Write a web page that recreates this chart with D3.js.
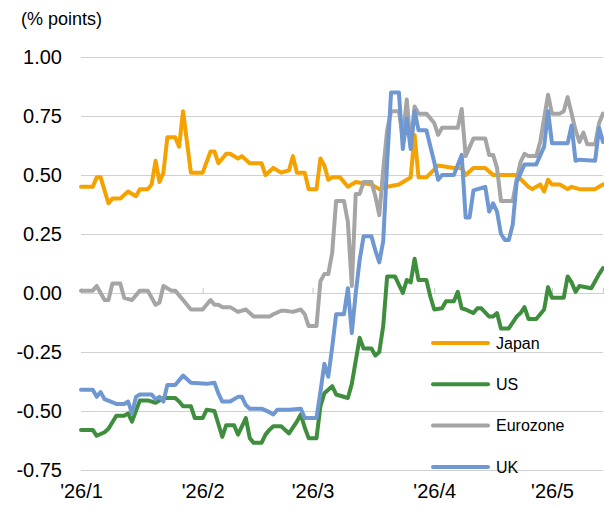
<!DOCTYPE html>
<html>

<head>
    <meta charset="utf-8" />
    <title>Spread chart</title>
    <script src="https://d3js.org/d3.v7.min.js"></script>
    <style>
        body { margin: 0; background: #fff; }
        text { font-family: Arial, "Liberation Sans", sans-serif; fill: #000; }
    </style>
</head>

<body>
    <svg width="604" height="506"></svg>
    <script>
        // series: [days since 2026-01-01, value in % points]
        const japan = [[0,0.45],[3,0.45],[4,0.49],[5,0.49],[7,0.38],[8,0.40],[10,0.40],[12,0.43],[14,0.41],[15,0.44],[17,0.44],[18,0.46],[19,0.56],[20,0.47],[21,0.51],[22,0.66],[24,0.66],[25,0.62],[26,0.77],[28,0.51],[31,0.51],[33,0.60],[34,0.60],[35,0.55],[37,0.59],[38,0.59],[40,0.57],[41,0.58],[43,0.55],[46,0.55],[47,0.50],[49,0.53],[51,0.51],[53,0.52],[54,0.58],[55,0.51],[57,0.51],[58,0.44],[60,0.44],[61,0.57],[62,0.54],[63,0.48],[64,0.49],[66,0.49],[68,0.45],[70,0.47],[74,0.46],[76,0.44],[78,0.45],[81,0.46],[83,0.48],[84,0.49],[85,0.67],[86,0.49],[88,0.49],[91,0.54],[95,0.53],[97,0.53],[98,0.50],[100,0.53],[103,0.53],[105,0.50],[111,0.50],[114,0.45],[115,0.44],[117,0.46],[118,0.43],[119,0.48],[120,0.46],[122,0.46],[124,0.44],[125,0.45],[127,0.44],[131,0.44],[132,0.45],[133,0.46]];
        const us = [[0,-0.58],[3,-0.58],[4,-0.605],[6,-0.59],[7,-0.575],[9,-0.52],[11,-0.52],[12,-0.51],[13,-0.545],[15,-0.455],[17,-0.455],[19,-0.465],[21,-0.445],[24,-0.445],[25,-0.46],[26,-0.48],[28,-0.48],[29,-0.53],[31,-0.53],[32,-0.495],[34,-0.50],[36,-0.61],[37,-0.56],[39,-0.56],[40,-0.60],[42,-0.53],[43,-0.615],[44,-0.635],[46,-0.635],[47,-0.60],[48,-0.58],[49,-0.565],[51,-0.565],[53,-0.595],[55,-0.545],[56,-0.515],[57,-0.57],[58,-0.615],[60,-0.615],[61,-0.48],[62,-0.425],[64,-0.395],[65,-0.43],[68,-0.445],[69,-0.385],[71,-0.19],[72,-0.235],[74,-0.235],[75,-0.265],[76,-0.25],[77,-0.14],[78,0.07],[80,0.07],[82,0.0],[83,0.055],[84,0.045],[85,0.145],[86,0.055],[88,0.055],[89,-0.015],[90,-0.07],[92,-0.065],[93,-0.035],[95,-0.035],[96,0.005],[97,-0.065],[98,-0.07],[100,-0.085],[101,-0.065],[102,-0.065],[104,-0.10],[105,-0.10],[106,-0.085],[107,-0.15],[109,-0.15],[111,-0.10],[112,-0.085],[113,-0.06],[114,-0.11],[116,-0.11],[118,-0.07],[119,0.025],[120,-0.02],[123,-0.02],[124,0.07],[125,0.045],[126,0.005],[127,0.03],[130,0.02],[131,0.05],[132,0.08],[133,0.105]];
        const eurozone = [[0,0.01],[3,0.01],[4,0.03],[6,-0.03],[7,-0.03],[8,0.04],[10,0.04],[11,-0.02],[13,-0.03],[15,0.01],[17,0.01],[19,-0.05],[20,-0.04],[21,0.03],[23,0.01],[24,0.01],[26,-0.03],[28,-0.07],[31,-0.07],[33,-0.03],[34,-0.05],[35,-0.05],[36,-0.06],[38,-0.06],[40,-0.08],[42,-0.07],[44,-0.10],[48,-0.10],[49,-0.09],[51,-0.075],[52,-0.075],[54,-0.08],[56,-0.07],[57,-0.09],[58,-0.14],[60,-0.14],[61,0.05],[62,0.08],[63,0.08],[64,0.17],[65,0.39],[67,0.39],[68,0.30],[69,0.03],[70,0.42],[71,0.42],[72,0.47],[74,0.47],[75,0.41],[76,0.33],[77,0.52],[78,0.69],[79,0.77],[81,0.77],[82,0.66],[83,0.82],[84,0.62],[85,0.79],[86,0.76],[88,0.76],[90,0.72],[91,0.67],[92,0.70],[96,0.70],[97,0.78],[98,0.58],[100,0.655],[103,0.655],[104,0.585],[105,0.585],[106,0.53],[107,0.39],[110,0.39],[111,0.48],[112,0.555],[113,0.59],[114,0.58],[116,0.58],[117,0.64],[118,0.74],[119,0.84],[120,0.76],[122,0.76],[123,0.77],[124,0.83],[125,0.76],[126,0.69],[127,0.64],[128,0.68],[129,0.63],[131,0.63],[132,0.72],[133,0.76]];
        const uk = [[0,-0.41],[3,-0.41],[4,-0.44],[5,-0.42],[6,-0.45],[9,-0.47],[11,-0.47],[12,-0.46],[13,-0.51],[14,-0.44],[15,-0.43],[18,-0.43],[19,-0.45],[20,-0.44],[21,-0.46],[22,-0.39],[24,-0.39],[26,-0.35],[28,-0.38],[32,-0.385],[34,-0.38],[35,-0.425],[36,-0.46],[38,-0.46],[40,-0.44],[41,-0.44],[42,-0.475],[43,-0.49],[46,-0.49],[48,-0.505],[49,-0.515],[50,-0.495],[53,-0.495],[56,-0.49],[57,-0.53],[60,-0.53],[61,-0.42],[62,-0.30],[63,-0.355],[64,-0.23],[65,-0.09],[67,-0.09],[68,0.02],[69,-0.17],[70,0.0],[71,0.14],[72,0.24],[74,0.24],[75,0.18],[76,0.13],[77,0.22],[78,0.55],[79,0.85],[81,0.85],[82,0.61],[83,0.74],[84,0.61],[85,0.77],[86,0.69],[88,0.69],[90,0.555],[91,0.48],[92,0.50],[95,0.50],[97,0.585],[98,0.32],[99,0.32],[100,0.435],[103,0.45],[104,0.345],[105,0.38],[106,0.345],[107,0.25],[108,0.225],[109,0.225],[110,0.29],[111,0.47],[113,0.545],[116,0.545],[118,0.62],[119,0.77],[120,0.635],[124,0.635],[125,0.71],[126,0.56],[127,0.565],[131,0.56],[132,0.70],[133,0.64]];

        const seriesNames = ["Japan", "US", "Eurozone", "UK"];
        const seriesColors = ["#F5A100", "#3E8E3E", "#A5A5A5", "#6F97D2"];
        const yTicks = [-0.75, -0.5, -0.25, 0, 0.25, 0.5, 0.75, 1.0];
        const monthLabels = ["'26/1", "'26/2", "'26/3", "'26/4", "'26/5"];

        const startDate = new Date(2026, 0, 1);
        const endDate = new Date(2026, 4, 14);
        const margin = { top: 57, bottom: 36, left: 81, right: 1 };
        const width = 604, height = 506;

        var svg = d3.select("svg");

        const x = d3.scaleTime()
            .domain([startDate, endDate])
            .range([margin.left, width - margin.right]);
        const y = d3.scaleLinear()
            .domain([-0.75, 1.0])
            .range([height - margin.bottom, margin.top]);

        // gridlines + y labels
        const yAxis = d3.axisLeft(y)
            .tickValues(yTicks)
            .tickSize(-(width - margin.right - margin.left))
            .tickPadding(19)
            .tickFormat(d3.format(".2f"));
        const gy = svg.append("g")
            .attr("transform", "translate(" + margin.left + ",0)")
            .call(yAxis);
        gy.select(".domain").remove();
        gy.selectAll("line").attr("stroke", "#D0D0D0").attr("stroke-width", 1.2);
        gy.selectAll("text")
            .attr("font-size", 20)
            .attr("fill", "#000")
            .text(d => d3.format(".2f")(d).replace("−", "-"));

        // tick marks on the zero line
        const months = d3.timeMonth.range(startDate, endDate);
        const zeroAxis = d3.axisBottom(x)
            .tickValues(months)
            .tickSize(-5)
            .tickFormat("");
        const gz = svg.append("g")
            .attr("transform", "translate(0," + y(0) + ")")
            .call(zeroAxis);
        gz.select(".domain").attr("stroke", "#D0D0D0").attr("stroke-width", 1.2);
        gz.selectAll("line").attr("stroke", "#C8C8C8");

        // month labels at the bottom
        const labelAxis = d3.axisBottom(x)
            .tickValues(months)
            .tickSize(0)
            .tickPadding(0)
            .tickFormat((d, i) => monthLabels[i]);
        const gl = svg.append("g")
            .attr("transform", "translate(0," + (height - margin.bottom + 14) + ")")
            .call(labelAxis);
        gl.select(".domain").remove();
        gl.selectAll("text").attr("font-size", 20).attr("fill", "#000");

        svg.append("text")
            .attr("x", 21)
            .attr("y", 25)
            .attr("font-size", 18)
            .text("(% points)");

        const line = d3.line()
            .x(d => x(d3.timeDay.offset(startDate, d[0])))
            .y(d => y(d[1]))
            .curve(d3.curveLinear);

        [japan, us, eurozone, uk].forEach(function (s, i) {
            svg.append("path")
                .datum(s)
                .attr("fill", "none")
                .attr("stroke", seriesColors[i])
                .attr("stroke-width", 4)
                .attr("stroke-linejoin", "round")
                .attr("stroke-linecap", "round")
                .attr("d", line);
        });

        // legend
        var legendItem = svg.append("g")
            .attr("class", "legend")
            .attr("transform", "translate(433,343)")
            .selectAll(".legend-item")
            .data(seriesNames)
            .enter()
            .append("g")
            .attr("class", "legend-item")
            .attr("transform", (d, i) => "translate(0," + i * 41.3 + ")");

        legendItem.append("line")
            .attr("x1", 0)
            .attr("x2", 55)
            .attr("stroke", (d, i) => seriesColors[i])
            .attr("stroke-width", 4)
            .attr("stroke-linecap", "round");

        legendItem.append("text")
            .attr("x", 63)
            .attr("dy", "0.35em")
            .attr("font-size", 16)
            .text(d => d);
    </script>
</body>

</html>
